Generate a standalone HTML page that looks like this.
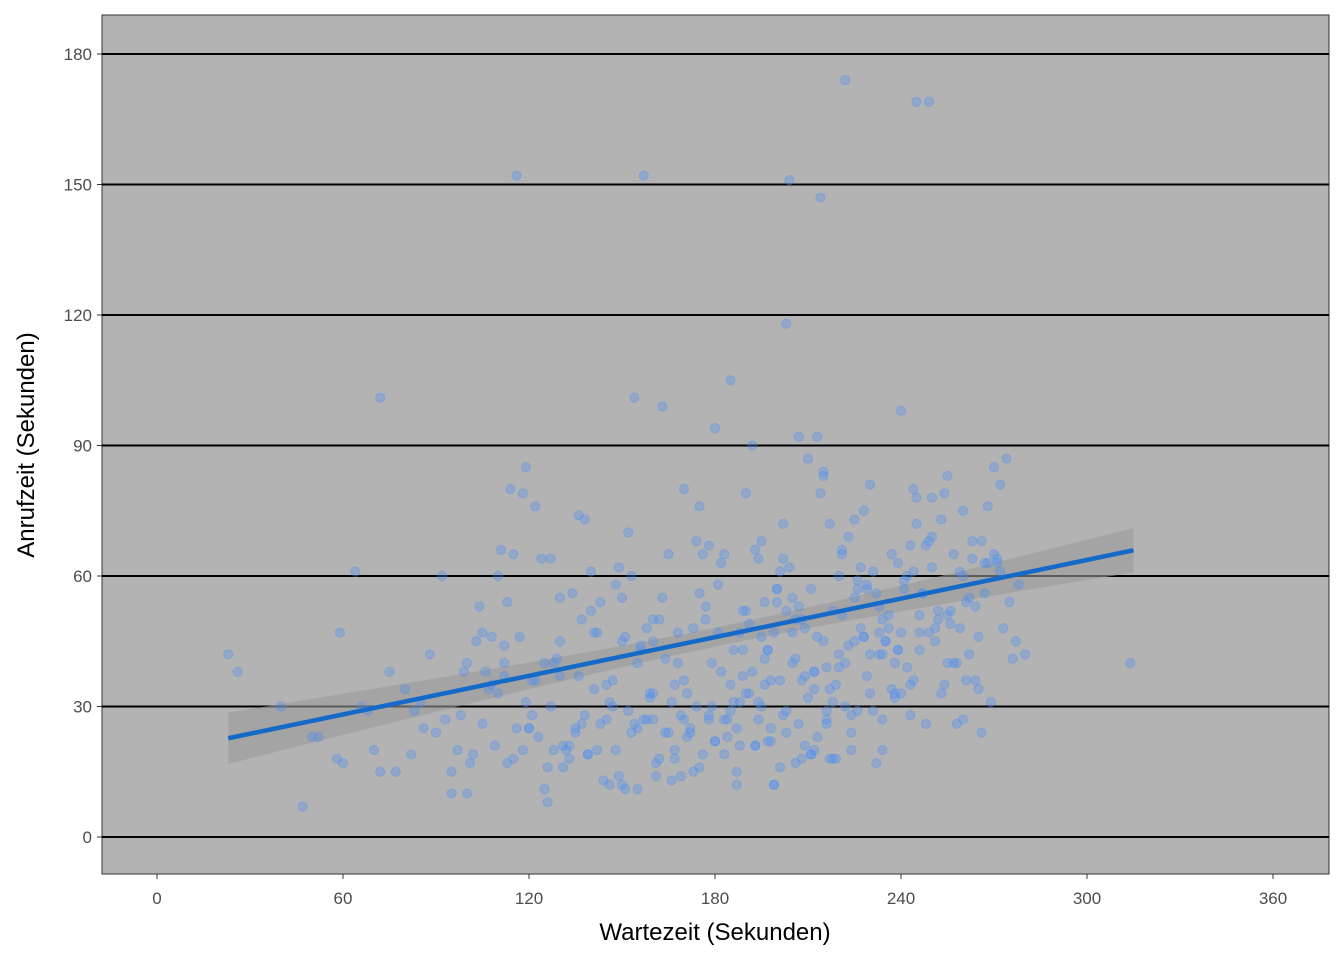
<!DOCTYPE html>
<html><head><meta charset="utf-8"><style>
body{margin:0;background:#fff;}
svg text{font-family:"Liberation Sans",sans-serif;}
</style></head><body>
<svg id="chart" width="1344" height="960">
<rect x="102" y="15" width="1227" height="859" fill="#b3b3b3" stroke="#333" stroke-width="1"/>
<g id="grid"></g><g id="band"></g><g id="pts"></g><g id="line"></g><g id="axes"></g>
<text x="715" y="940" text-anchor="middle" font-size="24" fill="#000">Wartezeit (Sekunden)</text>
<text transform="translate(34,445) rotate(-90)" text-anchor="middle" font-size="24" fill="#000">Anrufzeit (Sekunden)</text>
</svg>
<script>
const xTicks=[0,60,120,180,240,300,360];
const yTicks=[0,30,60,90,120,150,180];
const fitX=[23,315];
const fitIntercept=19.3, fitSlope=0.148;
const bandCenter=182, bandMinHalf=2.2, bandEndHalf=5.9;
const waitTimes=[222,245,249,116,157,204,214,203,72,154,163,23,26,314,47,64,
40,50,58,59,70,72,75,77,82,86,88,90,95,97,100,102,105,107,110,112,115,118,120,122,
125,127,128,130,132,135,137,140,142,145,147,150,152,155,158,160,162,165,167,170,172,175,177,180,
182,185,187,190,192,195,197,200,202,205,207,210,212,215,217,220,222,225,227,230,232,235,237,240,242,245,247,250,252,255,257,260,262,265,267,270,272,275,278,280,
118,125,135,145,150,160,168,178,185,190,195,200,205,210,215,220,225,230,235,240,245,250,255,260,265,270,
60,68,80,92,100,108,115,123,130,138,146,153,160,167,173,180,187,193,199,206,212,218,224,231,238,244,251,258,264,271,
110,120,130,140,150,160,170,175,182,188,194,198,203,208,213,219,226,233,241,248,256,262,
95,105,113,127,133,143,148,156,164,171,176,183,189,196,201,209,216,223,229,236,243,253,
52,66,85,103,112,121,137,141,151,159,166,174,181,186,191,197,202,207,211,217,228,234,239,247,254,261,268,276,
101,104,109,111,114,117,119,124,126,129,131,134,136,139,141,144,146,149,151,153,156,158,161,163,166,168,171,173,176,178,
179,181,184,186,188,189,191,193,194,196,198,199,201,203,204,206,208,209,211,213,214,216,218,219,221,223,224,226,228,229,
231,233,234,236,238,239,241,243,244,246,248,249,251,253,254,256,258,259,261,263,264,266,268,269,271,273,274,277,
106,116,126,138,148,155,162,169,174,179,184,187,192,195,199,202,205,209,212,215,218,221,226,230,234,237,242,246,250,257,
112,122,133,142,152,157,165,170,177,183,190,196,200,207,213,217,222,227,232,238,243,252,259,266,
98,108,119,128,136,143,149,154,159,164,169,175,180,185,189,194,198,203,208,212,216,221,225,229,234,240,246,255,263,272,
83,93,99,113,121,131,139,147,155,161,167,172,178,183,188,193,197,201,206,211,216,220,224,228,233,239,244,249,260,267];
const callTimes=[174,169,169,152,152,151,147,118,101,101,99,42,38,40,7,61,
30,23,18,47,20,15,38,15,19,25,42,24,15,20,10,19,47,34,60,40,65,20,25,76,
11,30,40,55,20,25,50,61,20,35,30,55,70,11,48,50,18,65,35,80,25,76,50,94,
63,35,15,79,90,68,43,57,72,40,92,87,38,84,72,60,30,73,62,81,56,45,65,47,39,72,56,62,50,40,65,75,42,34,56,85,61,54,58,42,
79,40,24,27,45,33,47,28,105,52,30,54,47,32,83,42,55,33,45,98,78,69,83,27,46,65,
17,29,34,60,40,46,18,23,37,73,12,60,45,20,15,22,25,21,12,17,20,18,24,29,33,36,48,40,36,63,
33,25,45,52,12,27,27,56,38,47,64,22,52,50,92,18,29,47,59,67,49,55,
10,26,54,64,18,26,58,44,41,33,65,27,43,35,61,37,26,69,58,51,67,73,
23,30,31,45,37,36,26,47,11,33,13,68,47,31,49,22,64,53,19,34,75,50,43,56,35,54,63,41,
17,53,21,66,80,46,85,64,8,41,16,56,74,19,34,13,31,62,46,24,43,27,17,55,31,40,23,48,19,67,
30,58,27,43,21,52,33,66,31,54,25,47,36,29,62,41,18,48,57,23,79,39,52,35,66,44,28,59,46,37,
61,42,27,48,32,63,57,35,80,51,26,68,45,33,79,52,26,61,36,68,53,24,76,31,64,48,87,45,
38,25,16,28,20,40,50,14,30,40,23,12,38,46,12,28,55,21,38,45,31,65,57,42,20,34,60,47,78,40,
44,36,21,47,29,27,24,36,53,65,33,41,57,26,46,18,40,48,17,40,28,52,48,68,
28,35,31,20,37,54,14,26,32,24,28,16,22,29,37,27,36,24,36,34,27,51,45,57,42,33,43,51,64,81,
29,27,38,17,28,21,19,36,25,14,18,24,27,19,31,21,43,16,50,19,29,39,20,46,53,43,61,47,60,63];
const X=v=>157+v*3.1, Y=v=>837-v*4.35;
const NS="http://www.w3.org/2000/svg";
function mk(tag,attrs,parent){const e=document.createElementNS(NS,tag);for(const k in attrs)e.setAttribute(k,attrs[k]);parent.appendChild(e);return e;}
const grid=document.getElementById('grid'),axes=document.getElementById('axes');
yTicks.forEach(t=>{
 const l=mk('line',{x1:102,x2:1329,y1:Y(t),y2:Y(t),stroke:'#000','stroke-width':2},grid);
 
 
 mk('line',{x1:97,x2:102,y1:Y(t),y2:Y(t),stroke:'#333','stroke-width':1},axes);
 const tx=mk('text',{x:92,y:Y(t)+6,'text-anchor':'end','font-size':17,fill:'#4d4d4d'},axes);tx.textContent=t;
 
 
});
xTicks.forEach(t=>{
 mk('line',{x1:X(t),x2:X(t),y1:874,y2:879,stroke:'#333','stroke-width':1},axes);
 const tx=mk('text',{x:X(t),y:904,'text-anchor':'middle','font-size':17,fill:'#4d4d4d'},axes);tx.textContent=t;
 
 
});
const pts=document.getElementById('pts');
waitTimes.forEach((w,i)=>{
 const c=mk('circle',{cx:X(w),cy:Y(callTimes[i]),r:4.6,fill:'rgba(70,140,250,0.3)',stroke:'rgba(70,140,250,0.35)','stroke-width':1},pts);
 
 
});
const dmax=Math.max(bandCenter-fitX[0],fitX[1]-bandCenter);
const kk=(bandEndHalf*bandEndHalf-bandMinHalf*bandMinHalf)/(dmax*dmax);
const hw=x=>Math.sqrt(bandMinHalf*bandMinHalf+kk*(x-bandCenter)*(x-bandCenter));
const fit=x=>fitIntercept+fitSlope*x;
let up=[],lo=[];
for(let i=0;i<=40;i++){const x=fitX[0]+(fitX[1]-fitX[0])*i/40;up.push(X(x)+','+Y(fit(x)+hw(x)));lo.unshift(X(x)+','+Y(fit(x)-hw(x)));}
const b=mk('polygon',{points:up.concat(lo).join(' '),fill:'rgba(153,153,153,0.6)'},document.getElementById('band'));


const ln=mk('line',{x1:X(fitX[0]),y1:Y(fit(fitX[0])),x2:X(fitX[1]),y2:Y(fit(fitX[1])),stroke:'#1569c7','stroke-width':4.5},document.getElementById('line'));


</script>
</body></html>
